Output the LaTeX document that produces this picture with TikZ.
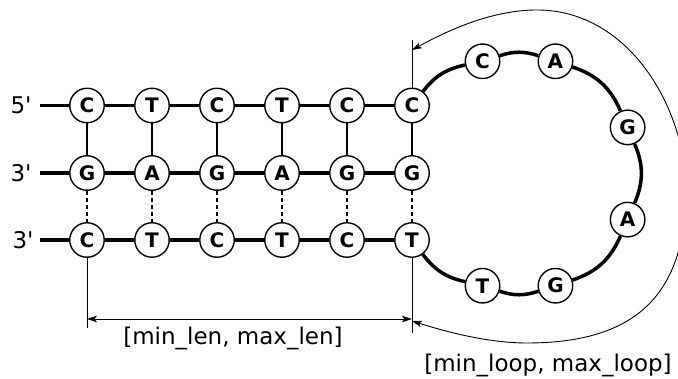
\documentclass[tikz,border=0pt]{standalone}
\usepackage{fontspec}
\setmainfont{DejaVu Sans}
\usetikzlibrary{arrows.meta,calc,backgrounds}
\begin{document}
\begin{tikzpicture}[x=1pt,y=1pt,
  base/.style={circle,draw,line width=1.4pt,fill=white,minimum size=34.5pt,inner sep=0pt,font=\fontsize{20}{20}\selectfont\bfseries},
  strand/.style={line width=3.5pt},
  pair/.style={line width=1.4pt},
  hbond/.style={line width=1.6pt,dash pattern=on 4pt off 3pt},
  dimline/.style={line width=0.9pt},
  tipboth/.style={{Stealth[length=10pt,width=6.5pt,inset=2.5pt]}-{Stealth[length=10pt,width=6.5pt,inset=2.5pt]}},
  lab/.style={font=\fontsize{23}{23}\selectfont,inner sep=0pt}
]
\useasboundingbox (0,0) rectangle (678,379);
% rows of bases
\foreach \x/\b [count=\i] in {87/C,152/T,217/C,282/T,347/C,412/C}
  \node[base] (a\i) at (\x,273.5) {\b};
\foreach \x/\b [count=\i] in {87/G,152/A,217/G,282/A,347/G,412/G}
  \node[base] (b\i) at (\x,206) {\b};
\foreach \x/\b [count=\i] in {87/C,152/T,217/C,282/T,347/C,412/T}
  \node[base] (c\i) at (\x,139) {\b};
% loop bases
\coordinate (ctr) at (519,205.5);
\foreach \ang/\b/\n in {108/C/l1,72/A/l2,23/G/l3,-23/A/l4,-72/G/l5,-108/T/l6}
  \node[base] (\n) at ($(ctr)+(\ang:118)$) {\b};
% end labels
\node[lab] (p1) at (21,273.5) {5\textquotesingle};
\node[lab] (p2) at (21,206) {3\textquotesingle};
\node[lab] (p3) at (23,139) {3\textquotesingle};
\coordinate (s1) at (40,273.5);
\coordinate (s2) at (40,206);
\coordinate (s3) at (40,139);
\begin{pgfonlayer}{background}
% strands
\draw[strand] (s1) -- (a1) -- (a2) -- (a3) -- (a4) -- (a5) -- (a6);
\draw[strand] (s2) -- (b1) -- (b2) -- (b3) -- (b4) -- (b5) -- (b6);
\draw[strand] (s3) -- (c1) -- (c2) -- (c3) -- (c4) -- (c5) -- (c6);
\draw[strand] (a6) to[bend left=20] (l1);
\draw[strand] (l1) to[bend left=18] (l2);
\draw[strand] (l2) to[bend left=24] (l3);
\draw[strand] (l3) to[bend left=23] (l4);
\draw[strand] (l4) to[bend left=24] (l5);
\draw[strand] (l5) to[bend left=18] (l6);
\draw[strand] (l6) to[bend left=20] (c6);
% pairs
\foreach \i in {1,...,6}{
  \draw[pair] (a\i) -- (b\i);
  \draw[hbond] (b\i) -- (c\i);
}
\end{pgfonlayer}
% dimension lines
\coordinate (tTop) at (412,339);
\coordinate (tB1) at (412,46);
\coordinate (tB0) at (87,51);
\coordinate (hL) at (87,60);
\coordinate (hR) at (412,60);
\coordinate (cS) at (412,58);
\coordinate (cE) at (412,329);
\draw[dimline] (a6) -- (tTop);
\draw[dimline] (c6) -- (tB1);
\draw[dimline] (c1) -- (tB0);
\draw[dimline,tipboth] (hL) -- (hR);
\draw[dimline,tipboth] (cS) .. controls (450,46) and (490,36) .. (527,36)
  .. controls (630,36) and (686,79) .. (686,189)
  .. controls (686,269) and (630,369) .. (537,369)
  .. controls (490,369) and (445,347) .. (cE);
\node[lab,anchor=base] (lenlab) at (233,34) {[min\_len, max\_len]};
\node[lab,anchor=base] (looplab) at (548,7) {[min\_loop, max\_loop]};
\end{tikzpicture}
\end{document}
